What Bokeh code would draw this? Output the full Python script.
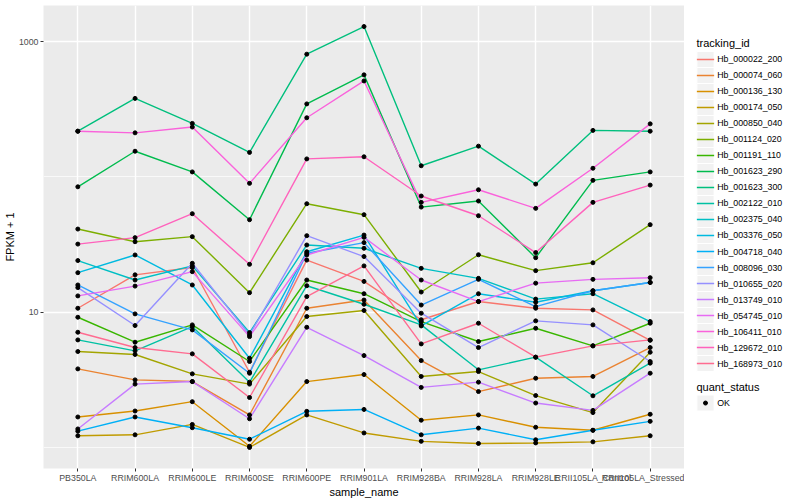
import numpy as np
from bokeh.plotting import figure
from bokeh.models import FactorRange, Range1d, FixedTicker, PrintfTickFormatter, ColumnDataSource
from bokeh.layouts import row
from bokeh.embed import file_html
from bokeh.resources import INLINE
from bokeh.core.properties import value

samples = ["PB350LA", "RRIM600LA", "RRIM600LE", "RRIM600SE", "RRIM600PE", "RRIM901LA",
           "RRIM928BA", "RRIM928LA", "RRIM928LE", "RRII105LA_Control", "RRII105LA_Stressed"]

tracking_ids = ["Hb_000022_200", "Hb_000074_060", "Hb_000136_130", "Hb_000174_050", "Hb_000850_040",
                "Hb_001124_020", "Hb_001191_110", "Hb_001623_290", "Hb_001623_300", "Hb_002122_010",
                "Hb_002375_040", "Hb_003376_050", "Hb_004718_040", "Hb_008096_030", "Hb_010655_020",
                "Hb_013749_010", "Hb_054745_010", "Hb_106411_010", "Hb_129672_010", "Hb_168973_010"]

colors = ["#F8766D", "#EA8331", "#D89000", "#C09B00", "#A3A500", "#7CAE00", "#39B600", "#00BB4E",
          "#00BF7D", "#00C1A3", "#00BFC4", "#00BAE0", "#00B0F6", "#35A2FF", "#9590FF", "#C77CFF",
          "#E76BF3", "#FA62DB", "#FF62BC", "#FF6C91"]

# FPKM + 1 per gene, in sample order
hb_000022_200 = [10.7, 18.9, 21.4, 3.6, 24.3, 16.9, 8.8, 12.0, 10.7, 10.4, 6.2]
hb_000074_060 = [3.81, 3.16, 3.07, 1.74, 10.7, 12.3, 4.39, 2.59, 3.25, 3.35, 5.48]
hb_000136_130 = [1.68, 1.86, 2.18, 1.02, 3.07, 3.46, 1.59, 1.74, 1.41, 1.34, 1.76]
hb_000174_050 = [1.22, 1.24, 1.48, 1.0, 1.74, 1.28, 1.11, 1.07, 1.08, 1.10, 1.22]
hb_000850_040 = [5.12, 4.87, 3.50, 2.94, 9.29, 10.3, 3.35, 3.64, 2.42, 1.81, 5.06]
hb_001124_020 = [41.2, 33.2, 36.2, 13.95, 63.4, 52.6, 14.1, 26.6, 20.3, 23.2, 44.4]
hb_001191_110 = [9.18, 6.0, 8.06, 4.32, 17.3, 13.7, 8.53, 6.07, 7.61, 5.64, 8.29]
hb_001623_290 = [84.6, 155, 109, 48.3, 347, 569, 59.9, 66.4, 25.3, 94.4, 109]
hb_001623_300 = [218, 381, 249, 152, 809, 1295, 121, 169, 88.6, 221, 218]
hb_002122_010 = [6.24, 5.18, 7.83, 3.04, 15.7, 11.45, 8.06, 3.75, 4.65, 2.41, 4.2]
hb_002375_040 = [24.1, 17.3, 22.0, 7.07, 31.4, 29.7, 21.1, 17.8, 12.5, 13.7, 8.53]
hb_003376_050 = [19.6, 26.5, 15.9, 4.57, 28.0, 37.2, 7.92, 13.7, 11.85, 14.4, 16.6]
hb_004718_040 = [1.32, 1.68, 1.40, 1.15, 1.85, 1.91, 1.24, 1.39, 1.14, 1.34, 1.56]
hb_008096_030 = [15.9, 9.72, 7.40, 3.54, 27.3, 32.7, 11.3, 17.5, 11.0, 14.4, 16.6]
hb_010655_020 = [15.2, 7.97, 23.0, 6.80, 36.8, 25.8, 9.83, 5.48, 8.63, 8.06, 4.32]
hb_013749_010 = [1.37, 2.94, 3.07, 1.63, 7.74, 4.78, 2.78, 3.04, 2.13, 1.88, 3.54]
hb_054745_010 = [13.2, 15.6, 19.95, 6.6, 26.5, 35.8, 17.3, 11.98, 16.4, 17.5, 18.0]
hb_106411_010 = [218, 212, 234, 89.7, 274, 513, 64.9, 80.4, 58.6, 116, 247]
hb_129672_010 = [31.9, 35.6, 53.5, 22.6, 136, 141, 72.3, 51.7, 27.6, 64.9, 87.1]
hb_168973_010 = [7.11, 5.48, 4.92, 2.34, 13.05, 22.0, 5.83, 8.29, 4.65, 5.64, 6.24]

series = [hb_000022_200, hb_000074_060, hb_000136_130, hb_000174_050, hb_000850_040,
          hb_001124_020, hb_001191_110, hb_001623_290, hb_001623_300, hb_002122_010,
          hb_002375_040, hb_003376_050, hb_004718_040, hb_008096_030, hb_010655_020,
          hb_013749_010, hb_054745_010, hb_106411_010, hb_129672_010, hb_168973_010]

quant_levels = ["OK"]

FONT = "Liberation Sans"
TOTAL_H = 500

allv = np.concatenate([np.array(s, dtype=float) for s in series])
lo, hi = np.log10(allv.min()), np.log10(allv.max())
span = hi - lo
y_start = 10 ** (lo - 0.05 * span)
y_end = 10 ** (hi + 0.05 * span)

p = figure(width=684, height=TOTAL_H,
           x_range=FactorRange(factors=samples, range_padding=0.1, range_padding_units="absolute"),
           y_range=Range1d(y_start, y_end), y_axis_type="log",
           output_backend="svg", toolbar_location=None,
           min_border_left=0, min_border_right=0, min_border_top=5, min_border_bottom=0)
p.background_fill_color = "#EBEBEB"
p.border_fill_color = "white"
p.outline_line_color = None

ticker = FixedTicker(ticks=[10, 1000], minor_ticks=[1, 100])
p.yaxis.ticker = ticker
p.ygrid.ticker = ticker
p.yaxis.formatter = PrintfTickFormatter(format="%d")

p.xgrid.grid_line_color = "white"
p.xgrid.grid_line_width = 1.4
p.ygrid.grid_line_color = "white"
p.ygrid.grid_line_width = 1.4
p.ygrid.minor_grid_line_color = "white"
p.ygrid.minor_grid_line_width = 0.7

for ax in (p.xaxis[0], p.yaxis[0]):
    ax.axis_line_color = None
    ax.major_tick_line_color = "#333333"
    ax.major_tick_line_width = 1
    ax.major_tick_out = 3
    ax.major_tick_in = 0
    ax.minor_tick_line_color = None
    ax.major_label_text_font = FONT
    ax.major_label_text_font_size = "8.8px"
    ax.major_label_text_color = "#4D4D4D"
    ax.major_label_standoff = 1
    ax.axis_label_text_font = FONT
    ax.axis_label_text_font_size = "11px"
    ax.axis_label_text_font_style = "normal"
    ax.axis_label_text_color = "black"
    ax.axis_label_standoff = 0

p.xaxis.axis_label = "sample_name"
p.yaxis.axis_label = "FPKM + 1"

for vals, col in zip(series, colors):
    src = ColumnDataSource(dict(x=samples, y=vals))
    p.line(x="x", y="y", source=src, line_color=col, line_width=1.4)
for vals in series:
    src = ColumnDataSource(dict(x=samples, y=vals))
    p.scatter(x="x", y="y", source=src, marker="circle", size=4, color="black")

# ---- legend panel (its own figure, pixel coordinates) ----
LEG_W = 116
p2 = figure(width=LEG_W, height=TOTAL_H, x_range=Range1d(0, LEG_W), y_range=Range1d(TOTAL_H, 0),
            output_backend="svg", toolbar_location=None,
            x_axis_location=None, y_axis_location=None, min_border=0)
p2.outline_line_color = None
p2.grid.visible = False
p2.background_fill_color = "white"
p2.border_fill_color = "white"

key_x = 21
key = 17.28
first_y = 58.3
label_x = 32.7
title_x = 12
ky = [first_y + key * i for i in range(len(tracking_ids))]

p2.text(x=[title_x], y=[40.7], text=["tracking_id"], text_font=value(FONT), text_font_size="11px",
        text_baseline="middle", text_align="left", text_color="black")
p2.rect(x=[key_x] * len(ky), y=ky, width=key, height=key, fill_color="#F2F2F2",
        line_color="white", line_width=1)
p2.segment(x0=[key_x - key / 2] * len(ky), x1=[key_x + key / 2] * len(ky), y0=ky, y1=ky,
           line_color=colors, line_width=1.4)
p2.text(x=[label_x] * len(ky), y=ky, text=tracking_ids, text_font=value(FONT), text_font_size="8.8px",
        text_baseline="middle", text_align="left", text_color="black")

q_title_y = 411.7
q_key_y = 429.3
p2.text(x=[title_x], y=[q_title_y], text=["quant_status"], text_font=value(FONT), text_font_size="11px",
        text_baseline="middle", text_align="left", text_color="black")
p2.rect(x=[key_x], y=[q_key_y], width=key, height=key, fill_color="#F2F2F2",
        line_color="white", line_width=1)
p2.scatter(x=[key_x], y=[q_key_y], marker="circle", size=4, color="black")
p2.text(x=[label_x], y=[q_key_y], text=quant_levels, text_font=value(FONT), text_font_size="8.8px",
        text_baseline="middle", text_align="left", text_color="black")

layout = row(p, p2)
open("out.html", "w").write(file_html(layout, INLINE))
